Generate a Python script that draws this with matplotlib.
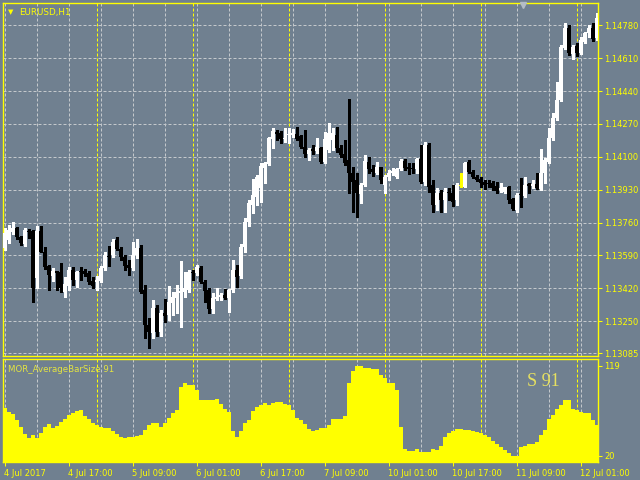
import numpy as np
import matplotlib.pyplot as plt
from matplotlib.lines import Line2D

bg = '#708090'
yel = '#ffff00'
grid_c = '#c4c8cc'

# EURUSD H1 candles, 4 Jul 01:00 .. 12 Jul 04:00
opens = [1.13629, 1.13670, 1.13712, 1.13732, 1.13686, 1.13650, 1.13717, 1.13717, 1.13474, 1.13717,
         1.13608, 1.13536, 1.13484, 1.13510, 1.13505, 1.13401, 1.13432, 1.13515, 1.13463, 1.13510,
         1.13510, 1.13500, 1.13458, 1.13453, 1.13458, 1.13525, 1.13588, 1.13593, 1.13670, 1.13624,
         1.13582, 1.13541, 1.13525, 1.13593, 1.13629, 1.13412, 1.13231, 1.13189, 1.13319, 1.13194,
         1.13293, 1.13282, 1.13345, 1.13370, 1.13396, 1.13401, 1.13412, 1.13505, 1.13500, 1.13525,
         1.13453, 1.13412, 1.13313, 1.13365, 1.13375, 1.13386, 1.13370, 1.13412, 1.13515, 1.13484,
         1.13634, 1.13763, 1.13851, 1.13892, 1.13939, 1.14042, 1.14063, 1.14192, 1.14229, 1.14223,
         1.14192, 1.14213, 1.14213, 1.14218, 1.14208, 1.14151, 1.14115, 1.14141, 1.14130, 1.14146,
         1.14073, 1.14136, 1.14187, 1.14213, 1.14146, 1.14115, 1.14084, 1.14017, 1.13980, 1.13908,
         1.13955, 1.14073, 1.14037, 1.14017, 1.14048, 1.13955, 1.13996, 1.14017, 1.13996, 1.14037,
         1.14079, 1.14048, 1.14042, 1.14037, 1.14089, 1.13970, 1.14161, 1.13955, 1.13851, 1.13913,
         1.13877, 1.13918, 1.13913, 1.13877, 1.13949, 1.13944, 1.14073, 1.14022, 1.13996, 1.13986,
         1.13970, 1.13965, 1.13965, 1.13949, 1.13929, 1.13918, 1.13944, 1.13882, 1.13825, 1.13908,
         1.13898, 1.13960, 1.13949, 1.13960, 1.13934, 1.14017, 1.14073, 1.14198, 1.14301, 1.14394,
         1.14663, 1.14766, 1.14632, 1.14673, 1.14637, 1.14694, 1.14740, 1.14766, 1.14714]
highs = [1.13732, 1.13748, 1.13763, 1.13737, 1.13691, 1.13732, 1.13727, 1.13722, 1.13743, 1.13743,
         1.13634, 1.13541, 1.13525, 1.13510, 1.13551, 1.13479, 1.13531, 1.13531, 1.13510, 1.13531,
         1.13520, 1.13510, 1.13479, 1.13484, 1.13536, 1.13608, 1.13639, 1.13675, 1.13686, 1.13634,
         1.13593, 1.13567, 1.13660, 1.13675, 1.13644, 1.13438, 1.13267, 1.13360, 1.13334, 1.13308,
         1.13365, 1.13432, 1.13401, 1.13438, 1.13562, 1.13505, 1.13515, 1.13515, 1.13541, 1.13536,
         1.13463, 1.13422, 1.13396, 1.13422, 1.13396, 1.13417, 1.13417, 1.13567, 1.13541, 1.13650,
         1.13784, 1.13877, 1.13986, 1.14006, 1.14068, 1.14073, 1.14203, 1.14249, 1.14239, 1.14234,
         1.14249, 1.14249, 1.14244, 1.14254, 1.14213, 1.14239, 1.14146, 1.14161, 1.14198, 1.14151,
         1.14229, 1.14275, 1.14249, 1.14254, 1.14161, 1.14187, 1.14399, 1.14048, 1.14017, 1.13965,
         1.14110, 1.14099, 1.14058, 1.14073, 1.14048, 1.14006, 1.14032, 1.14042, 1.14042, 1.14089,
         1.14089, 1.14068, 1.14068, 1.14094, 1.14161, 1.14177, 1.14172, 1.13980, 1.13939, 1.13929,
         1.13939, 1.13939, 1.13955, 1.13965, 1.14017, 1.14073, 1.14084, 1.14032, 1.14006, 1.13996,
         1.13980, 1.13980, 1.13975, 1.13970, 1.13965, 1.13944, 1.13949, 1.13887, 1.13913, 1.13991,
         1.13996, 1.13965, 1.13980, 1.14017, 1.14141, 1.14094, 1.14249, 1.14327, 1.14487, 1.14678,
         1.14792, 1.14782, 1.14678, 1.14689, 1.14720, 1.14746, 1.14782, 1.14792, 1.14844]
lows = [1.13619, 1.13655, 1.13701, 1.13675, 1.13644, 1.13639, 1.13680, 1.13350, 1.13422, 1.13608,
        1.13520, 1.13412, 1.13458, 1.13412, 1.13401, 1.13375, 1.13412, 1.13438, 1.13427, 1.13463,
        1.13484, 1.13443, 1.13422, 1.13412, 1.13453, 1.13515, 1.13536, 1.13582, 1.13619, 1.13567,
        1.13515, 1.13489, 1.13515, 1.13577, 1.13396, 1.13163, 1.13112, 1.13163, 1.13174, 1.13174,
        1.13246, 1.13257, 1.13282, 1.13293, 1.13220, 1.13375, 1.13401, 1.13463, 1.13489, 1.13448,
        1.13350, 1.13293, 1.13293, 1.13360, 1.13360, 1.13365, 1.13298, 1.13401, 1.13427, 1.13474,
        1.13608, 1.13743, 1.13810, 1.13851, 1.13867, 1.13965, 1.14058, 1.14146, 1.14187, 1.14172,
        1.14177, 1.14172, 1.14203, 1.14187, 1.14146, 1.14099, 1.14084, 1.14115, 1.14120, 1.14068,
        1.14068, 1.14125, 1.14136, 1.14125, 1.14099, 1.14058, 1.13913, 1.13815, 1.13789, 1.13862,
        1.13949, 1.14017, 1.14001, 1.14011, 1.13965, 1.13913, 1.13980, 1.14006, 1.13991, 1.14032,
        1.14032, 1.14011, 1.14017, 1.14017, 1.13965, 1.13955, 1.13918, 1.13815, 1.13825, 1.13815,
        1.13815, 1.13877, 1.13846, 1.13851, 1.13944, 1.13944, 1.14017, 1.13991, 1.13975, 1.13944,
        1.13934, 1.13944, 1.13929, 1.13913, 1.13918, 1.13913, 1.13862, 1.13825, 1.13815, 1.13841,
        1.13892, 1.13913, 1.13939, 1.13934, 1.13929, 1.13965, 1.14068, 1.14187, 1.14291, 1.14389,
        1.14658, 1.14627, 1.14606, 1.14621, 1.14632, 1.14689, 1.14720, 1.14699, 1.14704]
closes = [1.13706, 1.13722, 1.13732, 1.13686, 1.13655, 1.13722, 1.13712, 1.13422, 1.13717, 1.13608,
          1.13531, 1.13489, 1.13510, 1.13500, 1.13422, 1.13443, 1.13515, 1.13463, 1.13505, 1.13505,
          1.13494, 1.13453, 1.13432, 1.13463, 1.13525, 1.13593, 1.13582, 1.13660, 1.13624, 1.13582,
          1.13536, 1.13525, 1.13593, 1.13629, 1.13401, 1.13231, 1.13194, 1.13319, 1.13194, 1.13293,
          1.13277, 1.13350, 1.13375, 1.13401, 1.13407, 1.13422, 1.13505, 1.13500, 1.13531, 1.13453,
          1.13407, 1.13313, 1.13370, 1.13375, 1.13386, 1.13370, 1.13412, 1.13515, 1.13479, 1.13634,
          1.13763, 1.13862, 1.13903, 1.13996, 1.14053, 1.14068, 1.14198, 1.14234, 1.14218, 1.14192,
          1.14198, 1.14218, 1.14223, 1.14192, 1.14151, 1.14115, 1.14136, 1.14130, 1.14151, 1.14073,
          1.14192, 1.14223, 1.14223, 1.14146, 1.14110, 1.14068, 1.14017, 1.13970, 1.13913, 1.13955,
          1.14079, 1.14037, 1.14022, 1.14048, 1.13980, 1.13996, 1.14017, 1.14027, 1.14037, 1.14079,
          1.14042, 1.14037, 1.14037, 1.14089, 1.13970, 1.14161, 1.13944, 1.13851, 1.13913, 1.13877,
          1.13918, 1.13913, 1.13867, 1.13955, 1.13949, 1.14068, 1.14022, 1.13996, 1.13980, 1.13965,
          1.13955, 1.13960, 1.13939, 1.13924, 1.13939, 1.13944, 1.13877, 1.13830, 1.13903, 1.13903,
          1.13955, 1.13949, 1.13960, 1.13939, 1.14017, 1.14084, 1.14198, 1.14301, 1.14394, 1.14668,
          1.14766, 1.14637, 1.14668, 1.14637, 1.14704, 1.14740, 1.14766, 1.14709, 1.14818]

# MOR_AverageBarSize 91
bar_size = [72.3, 68.6, 66.0, 59.4, 51.3, 43.9, 39.1, 42.8, 39.9, 44.7,
            51.3, 54.6, 50.2, 52.8, 57.5, 60.5, 64.9, 66.7, 69.3, 70.4,
            63.8, 60.1, 56.4, 53.9, 51.3, 50.2, 50.2, 47.2, 43.9, 41.0,
            39.9, 40.2, 41.0, 41.7, 42.8, 48.3, 53.9, 55.7, 55.7, 51.3,
            56.4, 61.2, 66.7, 70.4, 96.2, 100.6, 98.0, 98.0, 92.5, 81.5,
            81.5, 81.5, 81.5, 82.2, 77.0, 71.2, 68.6, 47.6, 40.2, 47.6,
            55.7, 59.4, 69.7, 74.1, 75.9, 78.5, 75.9, 77.8, 78.9, 78.9,
            77.0, 75.9, 70.4, 61.2, 59.4, 55.0, 49.1, 47.6, 48.3, 50.2,
            50.2, 53.9, 60.1, 60.1, 60.1, 63.8, 99.9, 113.8, 119.0, 119.0,
            116.4, 116.4, 115.3, 115.3, 109.1, 105.4, 100.6, 100.6, 92.5, 52.0,
            27.0, 25.5, 25.5, 27.0, 24.4, 24.4, 24.4, 27.0, 26.3, 30.7,
            41.0, 44.7, 47.6, 49.1, 49.1, 48.3, 48.3, 47.6, 46.1, 44.7,
            42.8, 40.2, 36.6, 32.9, 29.2, 26.3, 23.3, 20.0, 20.0, 29.2,
            30.7, 32.9, 32.9, 35.5, 42.8, 48.3, 60.1, 64.9, 71.2, 75.9,
            81.5, 81.5, 71.2, 70.4, 68.6, 67.5, 67.5, 59.4, 53.9]

price_ticks = [1.14780, 1.14610, 1.14440, 1.14270, 1.14100, 1.13930,
               1.13760, 1.13590, 1.13420, 1.13250, 1.13085]
time_pos = [0, 16, 32, 48, 64, 80, 96, 112, 128, 144]
time_labels = ['4 Jul 2017', '4 Jul 17:00', '5 Jul 09:00', '6 Jul 01:00', '6 Jul 17:00',
               '7 Jul 09:00', '10 Jul 01:00', '10 Jul 17:00', '11 Jul 09:00', '12 Jul 01:00']
day_start = [23, 47, 71, 95, 119, 143]

o = np.array(opens); h = np.array(highs); l = np.array(lows); c = np.array(closes)
x = np.arange(len(o))
cols = np.where(c > o, 'white', np.where(c < o, 'black', yel))

fig = plt.figure(figsize=(6.4, 4.8), dpi=100, facecolor=bg)
ax = fig.add_axes([3/640, 1-356/480, 595/640, 353/480], facecolor=bg)
ax2 = fig.add_axes([3/640, 1-462/480, 595/640, 103/480], facecolor=bg)

for a in (ax, ax2):
    a.set_xlim(-0.375, 148.375)
    for s in a.spines.values():
        s.set_color(yel)
        s.set_linewidth(1.0)
    for g in range(0, 149, 8):
        a.axvline(g, color=grid_c, lw=0.72, ls=(0, (3, 2)), zorder=0)
    for d in day_start:
        a.axvline(d + 0.15, color=yel, lw=0.72, ls=(0, (3, 2)), zorder=0.5)
    a.yaxis.tick_right()
    a.tick_params(axis='y', colors=yel, length=3, width=0.75, labelsize=6, pad=1.5)

# price panel
ax.set_ylim(1.13070, 1.14895)
for p in price_ticks:
    ax.axhline(p, color=grid_c, lw=0.72, ls=(0, (3, 2)), zorder=0)
ax.vlines(x, l, h, colors=cols, lw=0.75, antialiased=False, zorder=2)
body = np.maximum(np.abs(c - o), 0.00004)
ax.bar(x, body, bottom=np.minimum(o, c), width=0.6, color=cols, lw=0,
       antialiased=False, zorder=3)
ax.set_yticks(price_ticks)
ax.set_yticklabels(['%.5f' % p for p in price_ticks])
ax.set_xticks([])

# indicator panel
ax2.set_ylim(13.0, 126.7)
ax2.bar(x, bar_size, width=1.0, color=yel, lw=0, antialiased=False, zorder=3)
ax2.set_yticks([20, 119])
ax2.set_yticklabels(['20', '119'])
ax2.set_xticks(time_pos)
ax2.set_xticklabels(time_labels)
ax2.tick_params(axis='x', colors=yel, length=3, width=0.75, labelsize=6, pad=2)
for t in ax2.get_xticklabels():
    t.set_ha('left')

fig.text(8/640, 1-12/480, '\u25bc', color=yel, fontsize=5, va='center')
fig.text(19/640, 1-12/480, 'EURUSD,H1', color=yel, fontsize=6.3, va='center')
fig.text(8/640, 1-369/480, 'MOR_AverageBarSize 91', color='#e4e440', fontsize=6.2, va='center')
fig.text(527/640, 1-381/480, 'S 91', color='#e6e060', fontsize=13,
         family='Liberation Serif', va='center')
fig.add_artist(Line2D([523/640], [1-5/480], marker='v', markersize=5, color='#b4bcc6',
                      transform=fig.transFigure))

fig.savefig('out.png', dpi=100, facecolor=bg)
